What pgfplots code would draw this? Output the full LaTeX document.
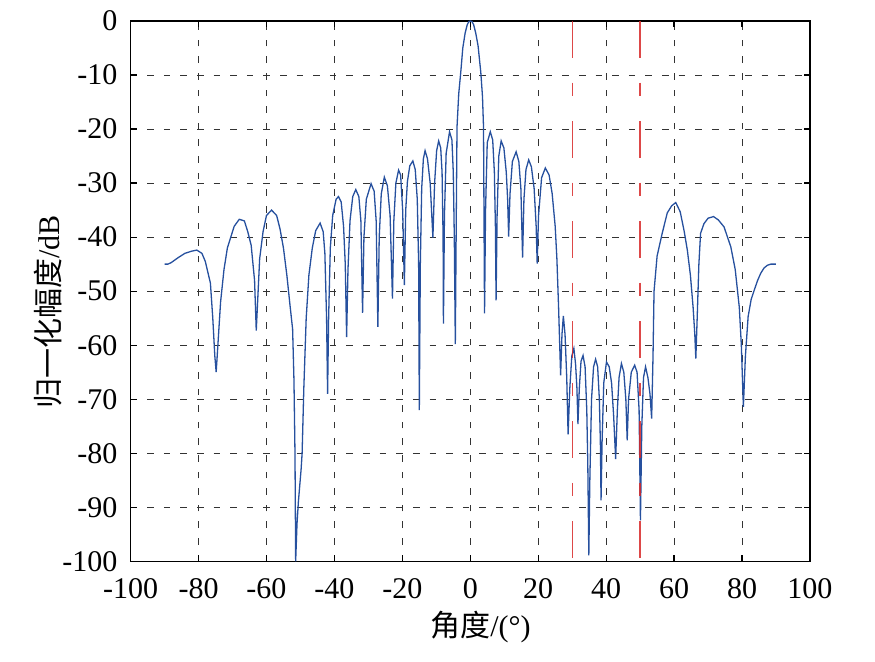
\documentclass[border=0pt]{standalone}
\usepackage{fontspec}
\usepackage{pgfplots}
\pgfplotsset{compat=1.18}
\setmainfont{Liberation Serif}
\newfontfamily\cjk{Noto Sans CJK SC}
\definecolor{curve}{RGB}{38,80,158}
\definecolor{redline}{RGB}{215,40,40}
\begin{document}
\begin{tikzpicture}
\begin{axis}[
  name=ax,
  scale only axis,
  width=339.5pt, height=270pt,
  xmin=-100, xmax=100, ymin=-100, ymax=0,
  xtick={-100,-80,...,100},
  ytick={-100,-90,...,0},
  grid=major,
  major grid style={black!80, line width=0.5pt, dash pattern=on 3.3pt off 5pt},
  tick align=inside,
  major tick length=3pt,
  axis line style={black, line width=0.7pt},
  tick style={black, line width=0.6pt},
  /pgf/number format/assume math mode=true,
  tick label style={font=\fontsize{15}{18}\selectfont},
  xticklabel style={yshift=-5pt},
  yticklabel style={xshift=-3pt},
  label style={font=\fontsize{15}{18}\selectfont},
  xlabel={{\cjk 角度}/(°)},
  ylabel={{\cjk 归一化幅度}/dB},
  xlabel style={at={([yshift=-33pt]axis description cs:0.515,0)}, anchor=center},
  ylabel style={at={([xshift=-41pt]axis description cs:0,0.461)}, anchor=center},
]
\addplot[curve, line width=0.65pt] coordinates {
(-90,-45) (-89,-45) (-88,-44.7) (-86,-43.8) (-84,-43) (-82,-42.6) (-80.5,-42.4)
(-79,-43) (-78,-44.5) (-76.5,-48.5) (-75.8,-55) (-75.2,-62) (-74.8,-65) (-74.3,-60)
(-73.5,-52) (-72.5,-46) (-71.5,-42) (-70.5,-40) (-69.5,-38) (-68,-36.7) (-66.5,-37)
(-65.5,-39) (-64.5,-41.5) (-63.5,-48) (-63,-57.3) (-62.6,-52) (-62,-44) (-61,-39)
(-60,-36) (-58.5,-35) (-57,-36) (-56,-38.5) (-55,-42) (-54,-47) (-53,-53) (-52.3,-57)
(-51.9,-66.5) (-51.6,-80) (-51.4,-100) (-51,-93) (-50.6,-89) (-49.8,-83) (-49.5,-80)
(-49,-68) (-48.3,-55) (-47.5,-47) (-46.5,-42) (-45.5,-38.8) (-44.2,-37.4) (-43.3,-39)
(-42.8,-43) (-42.3,-55) (-42,-69) (-41.7,-55) (-41.2,-42) (-40.5,-36) (-39.5,-33)
(-38.8,-32.5) (-38,-33.5) (-37.3,-38) (-36.8,-45) (-36.4,-58.5) (-36,-46) (-35.4,-37)
(-34.6,-32.5) (-33.7,-31.2) (-32.8,-32.5) (-32.2,-37) (-31.7,-54) (-31.3,-40) (-30.6,-33)
(-29.2,-30.1) (-28.3,-31.5) (-27.7,-37) (-27.2,-56.6) (-26.8,-40) (-26.2,-32) (-25.3,-28.9)
(-24.4,-30.5) (-23.6,-36) (-22.9,-51.4) (-22.5,-37) (-21.9,-30) (-21.1,-27.6) (-20.5,-28.5)
(-19.9,-35) (-19.4,-48.9) (-19,-35) (-18.5,-29.7) (-17.8,-26.8) (-16.9,-25.9) (-16.2,-27.5)
(-15.6,-33) (-15.2,-45) (-15,-72) (-14.7,-45) (-14.3,-31) (-13.8,-25.5) (-13.3,-24)
(-12.6,-25.5) (-11.8,-30) (-11,-40.1) (-10.5,-30) (-9.9,-24) (-9.3,-22.2) (-8.7,-23.5)
(-8.3,-28) (-8,-40) (-7.9,-56) (-7.6,-36) (-7.1,-24.5) (-6.1,-20.5) (-5.4,-22) (-5,-28)
(-4.7,-40) (-4.4,-59.8) (-4.1,-35) (-3.9,-19.6) (-3.4,-13.5) (-2.8,-9.5) (-2.2,-5)
(-1.5,-2.2) (-0.9,-0.7) (-0.4,-0.1) (0,0) (0.5,-0.1) (1,-0.7) (1.6,-2.2) (2.3,-4.6)
(3.1,-9.5) (3.6,-14) (3.9,-19.6) (4.2,-54.1) (4.5,-35) (5,-22.5) (5.9,-20.5) (6.6,-22) (7.1,-28) (7.4,-38)
(7.6,-51.7) (7.9,-36) (8.4,-25) (9.1,-22.2) (9.9,-23.5) (10.6,-28) (11,-33) (11.3,-39.9)
(11.7,-32) (12.4,-26) (13.5,-24.2) (14.3,-26) (14.9,-31) (15.4,-43.8) (15.8,-33)
(16.4,-27.5) (17.2,-25.7) (18,-27) (18.8,-31) (19.4,-38) (19.7,-44.9) (20.1,-36)
(21,-29) (22.1,-27.2) (23.2,-28.5) (24.1,-31.9) (25,-38) (25.5,-44) (26,-53) (26.6,-65.6)
(27,-58) (27.4,-54.6) (27.9,-58) (28.4,-66) (28.8,-76.5) (29.3,-68) (29.9,-62) (30.5,-60.6)
(31,-63.5) (31.4,-68) (31.7,-74.6) (32.1,-68) (32.6,-63) (33.2,-61.9) (33.8,-64) (34.3,-72)
(34.6,-82) (34.9,-98.9) (35.2,-85) (35.7,-70) (36.3,-64) (36.9,-62.6) (37.5,-64) (38,-70)
(38.3,-78) (38.5,-88.7) (38.8,-78) (39.3,-67) (40.1,-63.1) (40.9,-64) (41.6,-67) (42.2,-73)
(42.8,-81.1) (43.3,-72) (43.8,-66) (44.5,-63.4) (45.2,-65) (45.8,-70) (46.2,-77.6)
(46.6,-70) (47.4,-65) (48.4,-63.7) (49.1,-65) (49.7,-72) (50.1,-92.4) (50.5,-75) (51,-66)
(51.6,-64) (52.3,-66) (52.9,-69) (53.4,-73.6) (53.8,-62) (54.1,-50) (55,-43.5) (56.5,-39.3)
(58,-35.5) (59.3,-34.2) (60.5,-33.6) (61.8,-35.3) (63,-39) (63.9,-42.4) (64.8,-47)
(65.6,-53) (66.1,-58) (66.4,-62.5) (66.8,-55) (67.3,-45) (67.8,-39.3) (68.8,-37.5)
(70,-36.5) (71.6,-36.2) (73,-36.8) (74.7,-38.1) (76.7,-41.8) (78,-46) (79.2,-53)
(79.8,-60) (80.4,-71.4) (81,-62) (81.8,-54.7) (82.7,-51.5) (83.6,-49.8) (84.6,-48)
(85.5,-46.7) (86.5,-45.7) (87.5,-45.2) (88.5,-45) (90,-45)
};
\addplot[redline, opacity=0.85, line width=0.65pt, dash pattern=on 18.3pt off 12.5pt on 6.7pt off 12.5pt] coordinates {(30,0) (30,-100)};
\addplot[redline, opacity=0.85, line width=0.65pt, dash pattern=on 18.3pt off 12.5pt on 6.7pt off 12.5pt] coordinates {(50,0) (50,-100)};
\end{axis}
\pgfresetboundingbox
\path[use as bounding box] ([xshift=-65.25pt,yshift=-50pt]ax.south west) rectangle ([xshift=32.5pt,yshift=10.5pt]ax.north east);
\end{tikzpicture}
\end{document}
